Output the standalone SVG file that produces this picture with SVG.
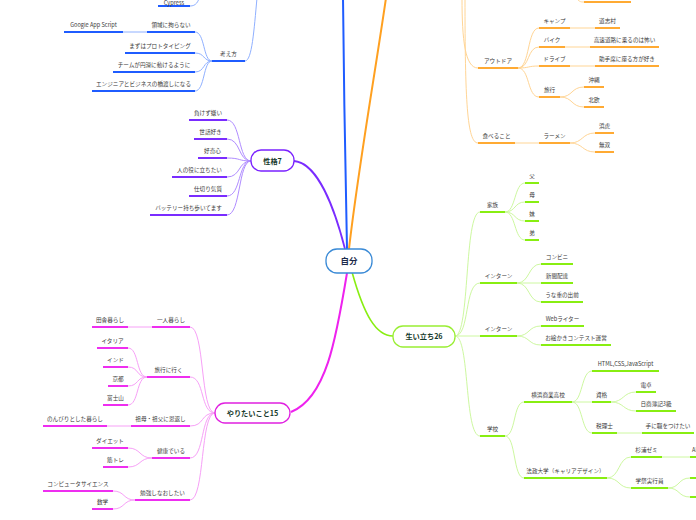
<svg xmlns="http://www.w3.org/2000/svg" width="696" height="520" viewBox="0 0 696 520">
<style>
.t{font-family:"Noto Sans CJK JP","Noto Sans",sans-serif;font-size:5.6px;fill:#3a3a3a;text-anchor:middle}
.n{font-family:"Noto Sans CJK JP","Noto Sans",sans-serif;font-size:7.2px;font-weight:bold;fill:#173a2c;text-anchor:middle}
.c{font-family:"Noto Sans CJK JP","Noto Sans",sans-serif;font-size:8.5px;font-weight:bold;fill:#1d2b4c;text-anchor:middle}
path,line{fill:none}
.bu{stroke:#1f5cff;stroke-width:2}
.bp{stroke:#8fb0ff;stroke-width:1}
.ou{stroke:#ffaa33;stroke-width:2}
.op{stroke:#ffd595;stroke-width:1}
.pu{stroke:#7a2cff;stroke-width:2}
.pp{stroke:#b08cff;stroke-width:1}
.mu{stroke:#ee2ef0;stroke-width:2}
.mp{stroke:#f7a0f7;stroke-width:1}
.gu{stroke:#88ee11;stroke-width:2}
.gp{stroke:#cdf8a0;stroke-width:1}
.box{fill:#fff;stroke-width:1.3}
</style>
<rect width="696" height="520" fill="#fff"/>
<g id="connectors">
<path d="M347,249 C345,170 344,80 343,-2" stroke="#1f5cff" stroke-width="2"/>
<path d="M349,249 C358,170 374,80 386,-2" stroke="#ffa020" stroke-width="2"/>
<path d="M294,161 C318,163 335,210 345,249" stroke="#7a2cff" stroke-width="1.8"/>
<path d="M347,273 C336,340 326,398 291,412" stroke="#ee22ee" stroke-width="2"/>
<path d="M352,272 C364,315 376,336 393,336" stroke="#88ee11" stroke-width="1.6"/>
<path class="bp" d="M245,61 C252,61 254,30 257,-2"/>
<path class="bp" d="M190,6 C196,6 198,2 200,-4"/>
<path class="bp" d="M195,32 C205,32 203,61 212,61"/>
<path class="bp" d="M195,53 C205,53 203,61 212,61"/>
<path class="bp" d="M195,72 C205,72 203,61 212,61"/>
<path class="bp" d="M195,91 C205,91 203,61 212,61"/>
<line class="bp" x1="123" y1="32" x2="147" y2="32"/>
<path class="pp" d="M227,120 C241,120 238,161 251,161"/>
<path class="pp" d="M227,139 C241,139 238,161 251,161"/>
<path class="pp" d="M227,158 C241,158 238,161 251,161"/>
<path class="pp" d="M227,177 C241,177 238,161 251,161"/>
<path class="pp" d="M227,196 C241,196 238,161 251,161"/>
<path class="pp" d="M227,215 C241,215 238,161 251,161"/>
<path class="mp" d="M190,327 C205,327 200,413 215,413"/>
<path class="mp" d="M190,377 C205,377 200,413 215,413"/>
<path class="mp" d="M190,426 C205,426 200,413 215,413"/>
<path class="mp" d="M190,458 C205,458 200,413 215,413"/>
<path class="mp" d="M190,500 C205,500 200,413 215,413"/>
<line class="mp" x1="128" y1="327" x2="152" y2="327"/>
<line class="mp" x1="107" y1="426" x2="131" y2="426"/>
<path class="mp" d="M128,348 C139,348 136,377 147,377"/>
<path class="mp" d="M128,367 C139,367 136,377 147,377"/>
<path class="mp" d="M128,386 C139,386 136,377 147,377"/>
<path class="mp" d="M128,405 C139,405 136,377 147,377"/>
<path class="mp" d="M128,448 C141,448 139,458 152,458"/>
<path class="mp" d="M128,467 C141,467 139,458 152,458"/>
<path class="mp" d="M113,491 C125,491 123,500 135,500"/>
<path class="mp" d="M113,509 C125,509 123,500 135,500"/>
<path class="op" d="M462,-2 C462,40 465,68 478,68"/>
<path class="op" d="M465,-2 C465,100 467,143 478,143"/>
<path class="op" d="M577,-1 C580,2 581,2 584,2"/>
<path class="op" d="M518,68 C530,68 527,28 539,28"/>
<path class="op" d="M518,68 C530,68 527,47 539,47"/>
<path class="op" d="M518,68 C530,68 527,66 539,66"/>
<path class="op" d="M518,68 C530,68 527,97 539,97"/>
<line class="op" x1="570" y1="28" x2="595" y2="28"/>
<line class="op" x1="565" y1="47" x2="590" y2="47"/>
<line class="op" x1="570" y1="66" x2="595" y2="66"/>
<path class="op" d="M560,97 C573,97 571,87 584,87"/>
<path class="op" d="M560,97 C573,97 571,107 584,107"/>
<line class="op" x1="515" y1="143" x2="539" y2="143"/>
<path class="op" d="M570,143 C583,143 582,133 595,133"/>
<path class="op" d="M570,143 C583,143 582,152 595,152"/>
<path class="gp" d="M455,336 C470,336 464,212 480,212"/>
<path class="gp" d="M455,336 C470,336 464,283 480,283"/>
<line class="gp" x1="455" y1="336" x2="480" y2="336"/>
<path class="gp" d="M455,336 C470,336 464,436 480,436"/>
<path class="gp" d="M505,212 C516,212 514,183 525,183"/>
<path class="gp" d="M505,212 C516,212 514,202 525,202"/>
<path class="gp" d="M505,212 C516,212 514,221 525,221"/>
<path class="gp" d="M505,212 C516,212 514,240 525,240"/>
<path class="gp" d="M517,283 C530,283 528,264 541,264"/>
<line class="gp" x1="517" y1="283" x2="541" y2="283"/>
<path class="gp" d="M517,283 C530,283 528,302 541,302"/>
<path class="gp" d="M517,336 C530,336 528,326 541,326"/>
<path class="gp" d="M517,336 C530,336 528,345 541,345"/>
<path class="gp" d="M505,436 C516,436 513,402 524,402"/>
<path class="gp" d="M505,436 C516,436 513,478 524,478"/>
<path class="gp" d="M572,402 C583,402 581,371 592,371"/>
<line class="gp" x1="572" y1="402" x2="592" y2="402"/>
<path class="gp" d="M572,402 C583,402 581,433 592,433"/>
<path class="gp" d="M611,402 C624,402 623,392 636,392"/>
<path class="gp" d="M611,402 C624,402 623,411 636,411"/>
<line class="gp" x1="617" y1="433" x2="642" y2="433"/>
<path class="gp" d="M607,478 C620,478 618,457 631,457"/>
<path class="gp" d="M607,478 C620,478 618,488 631,488"/>
<line class="gp" x1="662" y1="457" x2="690" y2="457"/>
<path class="gp" d="M668,488 C680,488 678,478 690,478"/>
<path class="gp" d="M668,488 C680,488 678,497 690,497"/>
</g>
<g id="node-center"><rect class="box" x="326" y="249" width="46" height="24" rx="11" stroke="#3a8ad6"/><text class="c" x="349" y="264">自分</text></g>
<g id="node-seikaku"><rect class="box" x="251" y="150" width="43" height="21" rx="10" stroke="#7a22ff"/><text class="n" x="272.5" y="163.5">性格7</text></g>
<g id="node-yaritai"><rect class="box" x="215" y="403" width="75" height="20" rx="10" stroke="#e020e0"/><text class="n" x="252.5" y="415.5">やりたいこと15</text></g>
<g id="node-oitachi"><rect class="box" x="393" y="326" width="62" height="21" rx="10" stroke="#99ee33"/><text class="n" x="424" y="338.5">生い立ち26</text></g>
<g id="n-cypress"><line class="bu" x1="158" y1="6" x2="190" y2="6"/><text class="t" x="174" y="4.6">Cypress</text></g>
<g id="n-gas"><line class="bu" x1="64" y1="32" x2="123" y2="32"/><text class="t" x="93.5" y="27">Google App Script</text></g>
<g id="n-ryoiki"><line class="bu" x1="147" y1="32" x2="195" y2="32"/><text class="t" x="171" y="27">領域に拘らない</text></g>
<g id="n-proto"><line class="bu" x1="125" y1="53" x2="195" y2="53"/><text class="t" x="160" y="48">まずはプロトタイピング</text></g>
<g id="n-team"><line class="bu" x1="113" y1="72" x2="195" y2="72"/><text class="t" x="154" y="67">チームが円滑に動けるように</text></g>
<g id="n-engineer"><line class="bu" x1="92" y1="91" x2="195" y2="91"/><text class="t" x="143.5" y="86">エンジニアとビジネスの橋渡しになる</text></g>
<g id="n-kangae"><line class="bu" x1="212" y1="61" x2="245" y2="61"/><text class="t" x="228.5" y="56">考え方</text></g>
<g id="n-makezu"><line class="pu" x1="189" y1="120" x2="227" y2="120"/><text class="t" x="208" y="115">負けず嫌い</text></g>
<g id="n-sewa"><line class="pu" x1="194" y1="139" x2="227" y2="139"/><text class="t" x="210.5" y="134">世話好き</text></g>
<g id="n-kouki"><line class="pu" x1="198" y1="158" x2="227" y2="158"/><text class="t" x="212.5" y="153">好奇心</text></g>
<g id="n-yakuni"><line class="pu" x1="172" y1="177" x2="227" y2="177"/><text class="t" x="199.5" y="172">人の役に立ちたい</text></g>
<g id="n-shikiri"><line class="pu" x1="189" y1="196" x2="227" y2="196"/><text class="t" x="208" y="191">仕切り気質</text></g>
<g id="n-battery"><line class="pu" x1="150" y1="215" x2="227" y2="215"/><text class="t" x="188.5" y="210">バッテリー持ち歩いてます</text></g>
<g id="n-inaka"><line class="mu" x1="92" y1="327" x2="128" y2="327"/><text class="t" x="110" y="322">田舎暮らし</text></g>
<g id="n-hitori"><line class="mu" x1="152" y1="327" x2="190" y2="327"/><text class="t" x="171" y="322">一人暮らし</text></g>
<g id="n-italy"><line class="mu" x1="97" y1="348" x2="128" y2="348"/><text class="t" x="112.5" y="343">イタリア</text></g>
<g id="n-india"><line class="mu" x1="103" y1="367" x2="128" y2="367"/><text class="t" x="115.5" y="362">インド</text></g>
<g id="n-kyoto"><line class="mu" x1="108" y1="386" x2="128" y2="386"/><text class="t" x="118" y="381">京都</text></g>
<g id="n-fuji"><line class="mu" x1="103" y1="405" x2="128" y2="405"/><text class="t" x="115.5" y="400">富士山</text></g>
<g id="n-ryokou"><line class="mu" x1="147" y1="377" x2="190" y2="377"/><text class="t" x="168.5" y="372">旅行に行く</text></g>
<g id="n-nonbiri"><line class="mu" x1="43" y1="426" x2="107" y2="426"/><text class="t" x="75" y="421">のんびりとした暮らし</text></g>
<g id="n-sobo"><line class="mu" x1="131" y1="426" x2="190" y2="426"/><text class="t" x="160.5" y="421">祖母・祖父に恩返し</text></g>
<g id="n-diet"><line class="mu" x1="92" y1="448" x2="128" y2="448"/><text class="t" x="110" y="443">ダイエット</text></g>
<g id="n-kintore"><line class="mu" x1="103" y1="467" x2="128" y2="467"/><text class="t" x="115.5" y="462">筋トレ</text></g>
<g id="n-kenkou"><line class="mu" x1="152" y1="458" x2="190" y2="458"/><text class="t" x="171" y="453">健康でいる</text></g>
<g id="n-cs"><line class="mu" x1="43" y1="491" x2="113" y2="491"/><text class="t" x="78" y="486">コンピュータサイエンス</text></g>
<g id="n-sugaku"><line class="mu" x1="92" y1="509" x2="113" y2="509"/><text class="t" x="102.5" y="504">数学</text></g>
<g id="n-benkyo"><line class="mu" x1="135" y1="500" x2="190" y2="500"/><text class="t" x="162.5" y="495">勉強しなおしたい</text></g>
<g id="n-top-orange"><line class="ou" x1="584" y1="2" x2="631" y2="2"/></g>
<g id="n-outdoor"><line class="ou" x1="478" y1="68" x2="518" y2="68"/><text class="t" x="498" y="63">アウトドア</text></g>
<g id="n-camp"><line class="ou" x1="539" y1="28" x2="570" y2="28"/><text class="t" x="554.5" y="23">キャンプ</text></g>
<g id="n-doshi"><line class="ou" x1="595" y1="28" x2="620" y2="28"/><text class="t" x="607.5" y="23">道志村</text></g>
<g id="n-bike"><line class="ou" x1="539" y1="47" x2="565" y2="47"/><text class="t" x="552" y="42">バイク</text></g>
<g id="n-kousoku"><line class="ou" x1="590" y1="47" x2="659" y2="47"/><text class="t" x="624.5" y="42">高速道路に乗るのは怖い</text></g>
<g id="n-drive"><line class="ou" x1="539" y1="66" x2="570" y2="66"/><text class="t" x="554.5" y="61">ドライブ</text></g>
<g id="n-joshu"><line class="ou" x1="595" y1="66" x2="659" y2="66"/><text class="t" x="627" y="61">助手席に座る方が好き</text></g>
<g id="n-ryokou2"><line class="ou" x1="539" y1="97" x2="560" y2="97"/><text class="t" x="549.5" y="92">旅行</text></g>
<g id="n-okinawa"><line class="ou" x1="584" y1="87" x2="604" y2="87"/><text class="t" x="594" y="82">沖縄</text></g>
<g id="n-hokuou"><line class="ou" x1="584" y1="107" x2="604" y2="107"/><text class="t" x="594" y="102">北欧</text></g>
<g id="n-taberu"><line class="ou" x1="478" y1="143" x2="515" y2="143"/><text class="t" x="496.5" y="138">食べること</text></g>
<g id="n-ramen"><line class="ou" x1="539" y1="143" x2="570" y2="143"/><text class="t" x="554.5" y="138">ラーメン</text></g>
<g id="n-hamatora"><line class="ou" x1="595" y1="133" x2="614" y2="133"/><text class="t" x="604.5" y="128">浜虎</text></g>
<g id="n-muso"><line class="ou" x1="595" y1="152" x2="614" y2="152"/><text class="t" x="604.5" y="147">無双</text></g>
<g id="n-kazoku"><line class="gu" x1="480" y1="212" x2="505" y2="212"/><text class="t" x="492.5" y="207">家族</text></g>
<g id="n-chichi"><line class="gu" x1="525" y1="183" x2="539" y2="183"/><text class="t" x="532" y="178">父</text></g>
<g id="n-haha"><line class="gu" x1="525" y1="202" x2="539" y2="202"/><text class="t" x="532" y="197">母</text></g>
<g id="n-imouto"><line class="gu" x1="525" y1="221" x2="539" y2="221"/><text class="t" x="532" y="216">妹</text></g>
<g id="n-otouto"><line class="gu" x1="525" y1="240" x2="539" y2="240"/><text class="t" x="532" y="235">弟</text></g>
<g id="n-intern1"><line class="gu" x1="480" y1="283" x2="517" y2="283"/><text class="t" x="498.5" y="278">インターン</text></g>
<g id="n-konbini"><line class="gu" x1="541" y1="264" x2="573" y2="264"/><text class="t" x="557" y="259">コンビニ</text></g>
<g id="n-shinbun"><line class="gu" x1="541" y1="283" x2="573" y2="283"/><text class="t" x="557" y="278">新聞配達</text></g>
<g id="n-unaju"><line class="gu" x1="541" y1="302" x2="583" y2="302"/><text class="t" x="562" y="297">うな重の出前</text></g>
<g id="n-intern2"><line class="gu" x1="480" y1="336" x2="517" y2="336"/><text class="t" x="498.5" y="331">インターン</text></g>
<g id="n-writer"><line class="gu" x1="541" y1="326" x2="584" y2="326"/><text class="t" x="562.5" y="321">Webライター</text></g>
<g id="n-oekaki"><line class="gu" x1="541" y1="345" x2="611" y2="345"/><text class="t" x="576" y="340">お絵かきコンテスト運営</text></g>
<g id="n-gakkou"><line class="gu" x1="480" y1="436" x2="505" y2="436"/><text class="t" x="492.5" y="431">学校</text></g>
<g id="n-yokohama"><line class="gu" x1="524" y1="402" x2="572" y2="402"/><text class="t" x="548" y="397">横浜商業高校</text></g>
<g id="n-html"><line class="gu" x1="592" y1="371" x2="659" y2="371"/><text class="t" x="625.5" y="366">HTML,CSS,JavaScript</text></g>
<g id="n-shikaku"><line class="gu" x1="592" y1="402" x2="611" y2="402"/><text class="t" x="601.5" y="397">資格</text></g>
<g id="n-dentaku"><line class="gu" x1="636" y1="392" x2="656" y2="392"/><text class="t" x="646" y="387">電卓</text></g>
<g id="n-boki"><line class="gu" x1="636" y1="411" x2="676" y2="411"/><text class="t" x="656" y="406">日商簿記3級</text></g>
<g id="n-zeirishi"><line class="gu" x1="592" y1="433" x2="617" y2="433"/><text class="t" x="604.5" y="428">税理士</text></g>
<g id="n-teni"><line class="gu" x1="642" y1="433" x2="694" y2="433"/><text class="t" x="668" y="428">手に職をつけたい</text></g>
<g id="n-hosei"><line class="gu" x1="524" y1="478" x2="607" y2="478"/><text class="t" x="565.5" y="473">法政大学（キャリアデザイン）</text></g>
<g id="n-sugiura"><line class="gu" x1="631" y1="457" x2="662" y2="457"/><text class="t" x="646.5" y="452">杉浦ゼミ</text></g>
<g id="n-ai"><line class="gu" x1="690" y1="457" x2="700" y2="457"/><text class="t" x="692" y="452" style="text-anchor:start">AI</text></g>
<g id="n-gakusai"><line class="gu" x1="631" y1="488" x2="668" y2="488"/><text class="t" x="649.5" y="483">学祭実行員</text></g>
<g id="n-g1"><line class="gu" x1="690" y1="478" x2="700" y2="478"/></g>
<g id="n-g2"><line class="gu" x1="690" y1="497" x2="700" y2="497"/></g>
</svg>
